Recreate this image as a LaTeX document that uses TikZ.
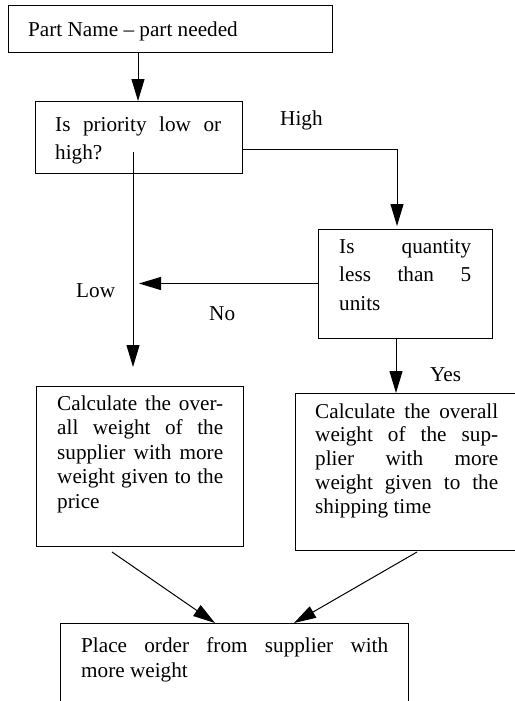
\documentclass[tikz,border=0pt]{standalone}
\usepackage{fontspec}
\setmainfont{Liberation Serif}
\usetikzlibrary{arrows.meta,calc}
\newcommand{\jtext}[3]{\begin{minipage}[t]{#1}\fontsize{21.2pt}{#2}\selectfont\tolerance=10000 \pretolerance=-1 \hyphenpenalty=10000 \parindent=0pt #3\end{minipage}}
\begin{document}
\begin{tikzpicture}[x=1pt,y=-1pt,
  box/.style={draw,line width=1pt,inner sep=0pt,outer sep=0pt},
  lbl/.style={anchor=base west,inner sep=0pt,font=\fontsize{21.2pt}{24pt}\selectfont},
  arr/.style={line width=1pt,-{Triangle[length=22pt,width=13pt]}}]
\useasboundingbox (0,0) rectangle (514,701);
% boxes
\node[box,minimum width=324pt,minimum height=47pt] (b1) at (170,29.5) {};
\node[box,minimum width=207pt,minimum height=72pt] (b2) at (138.5,137) {};
\node[box,minimum width=174pt,minimum height=109pt] (b3) at (405,283.5) {};
\node[box,minimum width=207pt,minimum height=160pt] (b4) at (139.5,466) {};
\node[box,minimum width=225pt,minimum height=157pt] (b5) at (407.5,471.5) {};
\node[box,minimum width=348pt,minimum height=87pt] (b6) at (234,666.5) {};
% texts
\node[lbl] (t1) at (28,37) {Part Name – part needed};
\node[lbl] (t2) at (55,131) {\jtext{166pt}{28pt}{Is priority low or\linebreak high?}};
\node[lbl] (t3) at (339,253) {\jtext{132pt}{28.5pt}{Is quantity\linebreak less than 5\linebreak units}};
\node[lbl] (t4) at (57,410) {\jtext{166pt}{24.5pt}{Calculate the over-\linebreak all weight of the\linebreak supplier with more\linebreak weight given to the\linebreak price}};
\node[lbl] (t5) at (315,418) {\jtext{183pt}{23.8pt}{Calculate the overall\linebreak weight of the sup-\linebreak plier with more\linebreak weight given to the\linebreak shipping time}};
\node[lbl] (t6) at (81,652) {\jtext{307pt}{25pt}{Place order from supplier with\linebreak more weight}};
% labels
\node[lbl] (lhigh) at (280,125) {High};
\node[lbl] (llow) at (76,297) {Low};
\node[lbl] (lno) at (209,320) {No};
\node[lbl] (lyes) at (430,381) {Yes};
% connectors
\coordinate (ls) at ($(b2.south)+(-5.5,-21)$);
\coordinate (le) at ($(b4.north)+(-6.5,-19)$);
\draw[arr] ($(b1.south)+(-32,0)$) -- ($(b2.north)+(-0.5,0)$);
\draw[arr] ($(b2.east)+(0,12)$) -| ($(b3.north)+(-8,-3)$);
\draw[arr] (ls) -- (le);
\draw[arr] (b3.west) -- ($(ls |- b3.west)+(6,0)$);
\draw[arr] ($(b3.south)+(-9,0)$) -- ($(b5.north)+(-11.5,0)$);
\draw[arr] ($(b4.south)+(-27.5,6)$) -- ($(b6.north)+(-19,0)$);
\draw[arr] ($(b5.south)+(9.5,2)$) -- ($(b6.north)+(60,0)$);
\end{tikzpicture}
\end{document}
